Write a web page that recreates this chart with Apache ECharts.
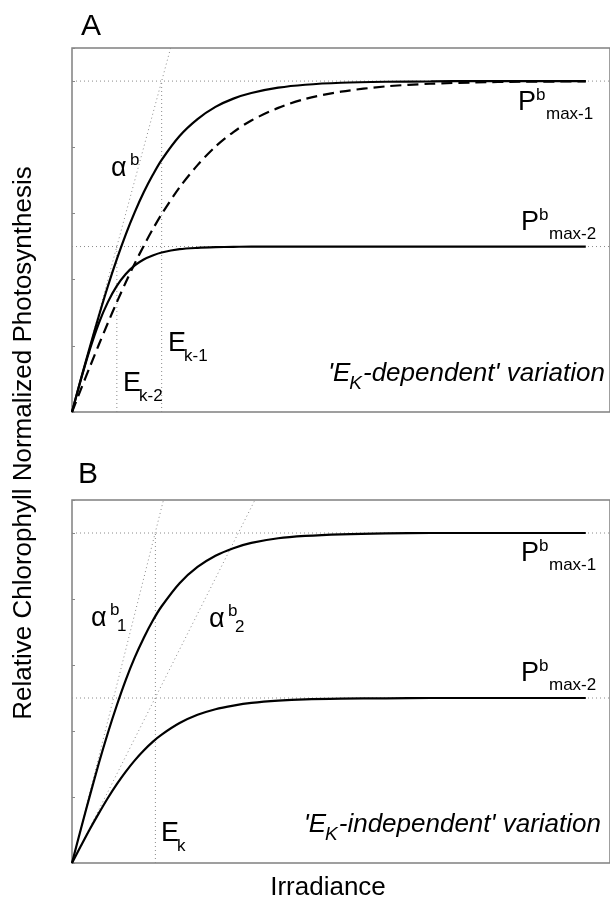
<!DOCTYPE html>
<html>
<head>
<meta charset="utf-8">
<script src="https://cdn.jsdelivr.net/npm/echarts@6/dist/echarts.min.js"></script>
<style>html,body{margin:0;padding:0;background:#fff}#c{width:610px;height:900px}</style>
</head>
<body>
<div id="c"></div>
<script>
// Irradiance sample points (arbitrary units)
const irradiance = [0,10,20,30,40,50,60,70,80,90,100,120,140,160,180,200,230,260,300,350,400,450,500,573];
// Panel A curves (relative P)
const A_high   = [0,0.100,0.197,0.291,0.380,0.462,0.537,0.604,0.664,0.716,0.762,0.834,0.885,0.922,0.947,0.964,0.980,0.989,0.995,0.998,0.999,1.0,1.0,1.0];
const A_low    = [0,0.099,0.190,0.269,0.332,0.381,0.417,0.443,0.461,0.473,0.482,0.492,0.496,0.498,0.499,0.500,0.500,0.500,0.500,0.500,0.500,0.500,0.500,0.500];
const A_dashed = [0,0.069,0.137,0.204,0.269,0.332,0.392,0.449,0.502,0.552,0.598,0.679,0.746,0.802,0.846,0.881,0.919,0.946,0.968,0.984,0.992,0.996,0.998,0.999];
// Panel B curves
const B_high   = [0,0.104,0.205,0.303,0.394,0.478,0.555,0.623,0.682,0.734,0.778,0.848,0.897,0.931,0.954,0.970,0.984,0.991,0.996,0.999,1.0,1.0,1.0,1.0];
const B_low    = [0,0.052,0.103,0.151,0.197,0.239,0.277,0.311,0.341,0.367,0.389,0.424,0.449,0.466,0.477,0.485,0.492,0.496,0.498,0.499,0.500,0.500,0.500,0.500];
// reference levels
const Pmax = [1.0, 0.5];
const Ek_A = [100, 50];
const Ek_B = 93;
const alphaTopA = [110, 1.1];
const alphaTopB = [[102, 1.1], [204, 1.1]];
const xMax = 600, yMax = 1.1, yTick = 0.2;

const FF = "'Liberation Sans', Arial, Helvetica, sans-serif";
const chart = echarts.init(document.getElementById('c'), null, {renderer:'canvas'});

function zipXY(ys){ return irradiance.map((x,i)=>[x, ys[i]]); }
const dotStyle = {color:'#8a8a8a', width:1, type:[1,3]};
function refLine(pts, gi){
  return {type:'line', xAxisIndex:gi, yAxisIndex:gi, data:pts, showSymbol:false, silent:true,
    lineStyle:dotStyle, z:1, animation:false};
}
function curve(ys, gi, dashed){
  return {type:'line', xAxisIndex:gi, yAxisIndex:gi, data:zipXY(ys), showSymbol:false, smooth:0.3,
    lineStyle:{color:'#000', width:2.2, type: dashed ? [11,6] : 'solid'}, z:3, animation:false};
}

const series = [];
for (let g=0; g<2; g++){
  series.push(refLine([[0,Pmax[0]],[xMax,Pmax[0]]], g));
  series.push(refLine([[0,Pmax[1]],[xMax,Pmax[1]]], g));
}
series.push(refLine([[0,0],alphaTopA], 0));
series.push(refLine([[Ek_A[0],0],[Ek_A[0],Pmax[0]]], 0));
series.push(refLine([[Ek_A[1],0],[Ek_A[1],Pmax[1]]], 0));
series.push(refLine([[0,0],alphaTopB[0]], 1));
series.push(refLine([[0,0],alphaTopB[1]], 1));
series.push(refLine([[Ek_B,0],[Ek_B,Pmax[0]]], 1));
series.push(curve(A_dashed, 0, true));
series.push(curve(A_high, 0, false));
series.push(curve(A_low, 0, false));
series.push(curve(B_high, 1, false));
series.push(curve(B_low, 1, false));

function xAx(gi){ return {type:'value', gridIndex:gi, min:0, max:xMax, axisLine:{show:false}, axisTick:{show:false}, axisLabel:{show:false}, splitLine:{show:false}}; }
function yAx(gi){ return {type:'value', gridIndex:gi, min:0, max:yMax, interval:yTick, axisLine:{show:false},
  axisTick:{show:true, inside:true, length:3, lineStyle:{color:'#888'}}, axisLabel:{show:false}, splitLine:{show:false}}; }

// text helpers
const mctx = document.createElement('canvas').getContext('2d');
function fontStr(size, it){ return (it?'italic ':'') + size + 'px ' + FF; }
function tw(t, size, it){ mctx.font = fontStr(size, it); return mctx.measureText(t).width; }
function txt(t, x, base, size, opts){
  opts = opts || {};
  return {type:'text', x:x, y: base - 0.347*size, rotation: opts.rot || 0, silent:true, z:10,
    style:{text:t, font:fontStr(size, opts.it), fill:'#000', textAlign: opts.align || 'left', textVerticalAlign:'middle'}};
}
const M = 27, S = 17;
const g = [];
function pLabel(x, base, sub){
  g.push(txt('P', x, base, M));
  g.push(txt('b', x+18, base-11, S));
  g.push(txt(sub, x+28, base+8, S));
}
function eLabel(x, base, sub){
  g.push(txt('E', x, base, M));
  g.push(txt(sub, x+16, base+9, S));
}
function aLabel(x, base, sub){
  g.push(txt('\u03b1', x, base, M));
  g.push(txt('b', x+19, base-12, S));
  if (sub) g.push(txt(sub, x+26, base+4, S));
}
function italicLabel(word, base, rightX){
  const s1 = 26, s2 = 19;
  const p1 = "'E", p2 = 'K', p3 = '-' + word + "' variation";
  const w1 = tw(p1, s1, true), w2 = tw(p2, s2, true), w3 = tw(p3, s1, true);
  const x0 = rightX - (w1 + w2 + w3);
  g.push(txt(p1, x0, base, s1, {it:true}));
  g.push(txt(p2, x0 + w1 - 1, base + 7, s2, {it:true}));
  g.push(txt(p3, x0 + w1 + w2, base, s1, {it:true}));
}
// Panel A
g.push(txt('A', 81, 37, 30));
aLabel(111, 178, null);
pLabel(518, 112, 'max-1');
pLabel(521, 232, 'max-2');
eLabel(168, 353, 'k-1');
eLabel(123, 393, 'k-2');
italicLabel('dependent', 383, 605);
// Panel B
g.push(txt('B', 78, 485, 30));
pLabel(521, 563, 'max-1');
pLabel(521, 683, 'max-2');
eLabel(161, 843, 'k');
aLabel(91, 628, '1');
aLabel(209, 629, '2');
italicLabel('independent', 834, 601);
// axis titles
g.push(txt('Irradiance', 328, 897, 26, {align:'center'}));
g.push({type:'text', x:24, y:443, rotation:Math.PI/2, silent:true, z:10,
  style:{text:'Relative Chlorophyll Normalized Photosynthesis', font:fontStr(26), fill:'#000', textAlign:'center', textVerticalAlign:'middle'}});

chart.setOption({
  backgroundColor:'#fff',
  animation:false,
  grid:[
    {left:72, top:48, width:540, height:364, show:true, borderColor:'#808080', borderWidth:1.5, backgroundColor:'transparent'},
    {left:72, top:500, width:540, height:363, show:true, borderColor:'#808080', borderWidth:1.5, backgroundColor:'transparent'}
  ],
  xAxis:[xAx(0), xAx(1)],
  yAxis:[yAx(0), yAx(1)],
  series: series,
  graphic: g
});
</script>
</body>
</html>
